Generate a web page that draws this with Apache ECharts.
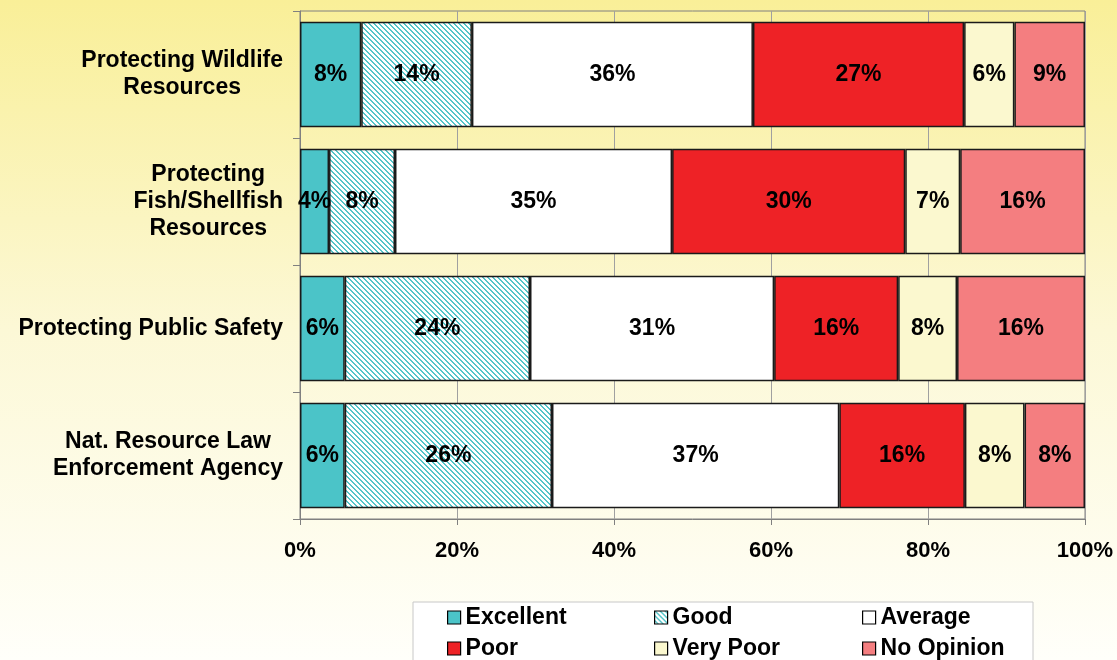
<!DOCTYPE html>
<html>
<head>
<meta charset="utf-8">
<script src="https://cdn.jsdelivr.net/npm/echarts@6/dist/echarts.min.js"></script>
<style>
html,body{margin:0;padding:0;}
#chart{width:1117px;height:660px;}
</style>
</head>
<body>
<div id="chart"></div>
<script>
var categories = ['Protecting Wildlife\nResources', 'Protecting\nFish/Shellfish\nResources', 'Protecting Public Safety', 'Nat. Resource Law\nEnforcement Agency'];
var seriesNames = ['Excellent', 'Good', 'Average', 'Poor', 'Very Poor', 'No Opinion'];
var excellent = [7.8, 3.7, 5.7, 5.7];
var good = [14.1, 8.4, 23.6, 26.4];
var average = [35.8, 35.3, 31.1, 36.6];
var poor = [26.9, 29.7, 15.8, 16.0];
var veryPoor = [6.4, 7.0, 7.5, 7.6];
var noOpinion = [9.0, 15.9, 16.3, 7.7];
var xTicks = [0, 20, 40, 60, 80, 100];

var FONT = '"Liberation Sans", Arial, sans-serif';

// diagonal stripe pattern for "Good"
var P = 5;
var pc = document.createElement('canvas');
pc.width = P; pc.height = P;
var pctx = pc.getContext('2d');
pctx.fillStyle = '#ffffff';
pctx.fillRect(0, 0, P, P);
pctx.fillStyle = '#55c5c9';
for (var py = 0; py < P; py++) {
  for (var px = 0; px < P; px++) {
    var d = ((px - py) % P + P) % P;
    if (d === 0 || d === 1) pctx.fillRect(px, py, 1, 1);
  }
}
var goodPattern = { image: pc, repeat: 'repeat' };

var colors = ['#4bc4c8', goodPattern, '#ffffff', '#ee2226', '#fbf8cf', '#f47e80'];
var dataSets = [excellent, good, average, poor, veryPoor, noOpinion];

var series = seriesNames.map(function (name, i) {
  return {
    name: name,
    type: 'bar',
    stack: 'total',
    barCategoryGap: '17%',
    data: dataSets[i],
    itemStyle: { color: colors[i], borderColor: '#1a1a1a', borderWidth: 1.5 },
    label: {
      show: true,
      position: 'inside',
      formatter: function (p) { return Math.round(p.value) + '%'; },
      color: '#000',
      fontFamily: FONT,
      fontWeight: 'bold',
      fontSize: 23
    }
  };
});

function legendCol(names, left) {
  return {
    orient: 'vertical',
    left: left,
    top: 606,
    padding: 0,
    itemGap: 8,
    itemWidth: 13,
    itemHeight: 13,
    icon: 'rect',
    data: names,
    itemStyle: { borderColor: '#000', borderWidth: 1.2 },
    textStyle: { color: '#000', fontFamily: FONT, fontWeight: 'bold', fontSize: 23, lineHeight: 22 }
  };
}

var chart = echarts.init(document.getElementById('chart'), null, { renderer: 'canvas' });
chart.setOption({
  animation: false,
  backgroundColor: {
    type: 'linear', x: 0, y: 0, x2: 0, y2: 1,
    colorStops: [
      { offset: 0, color: '#f9ef98' },
      { offset: 0.5, color: '#fcf8d6' },
      { offset: 1, color: '#fffffa' }
    ]
  },
  graphic: [{
    type: 'rect',
    shape: { x: 413, y: 602, width: 620, height: 80 },
    style: { fill: '#ffffff', stroke: '#c8c8c8', lineWidth: 1 },
    z: -1
  }],
  legend: [
    legendCol(['Excellent', 'Poor'], 447),
    legendCol(['Good', 'Very Poor'], 654),
    legendCol(['Average', 'No Opinion'], 862)
  ],
  grid: {
    left: 300, right: 32, top: 11, bottom: 141,
    show: true, borderColor: '#808080', borderWidth: 1,
    backgroundColor: 'transparent'
  },
  xAxis: {
    type: 'value',
    min: xTicks[0],
    max: xTicks[xTicks.length - 1],
    interval: 20,
    axisLine: { show: true, lineStyle: { color: '#808080', width: 1 } },
    axisTick: { show: true, length: 6, lineStyle: { color: '#808080' } },
    splitLine: { show: true, lineStyle: { color: '#a0a0a0', width: 1 } },
    axisLabel: {
      formatter: '{value}%',
      margin: 21,
      color: '#000',
      fontFamily: FONT,
      fontWeight: 'bold',
      fontSize: 22
    }
  },
  yAxis: {
    type: 'category',
    data: categories,
    inverse: true,
    axisLine: { show: true, lineStyle: { color: '#808080', width: 1 } },
    axisTick: { show: true, length: 7, lineStyle: { color: '#808080' } },
    axisLabel: {
      margin: 17,
      formatter: function (v) {
        return v.split('\n').map(function (s) { return '{c|' + s + '}'; }).join('\n');
      },
      rich: {
        c: { align: 'center', color: '#000', fontFamily: FONT, fontWeight: 'bold', fontSize: 23, lineHeight: 27 }
      }
    }
  },
  series: series
});
</script>
</body>
</html>
